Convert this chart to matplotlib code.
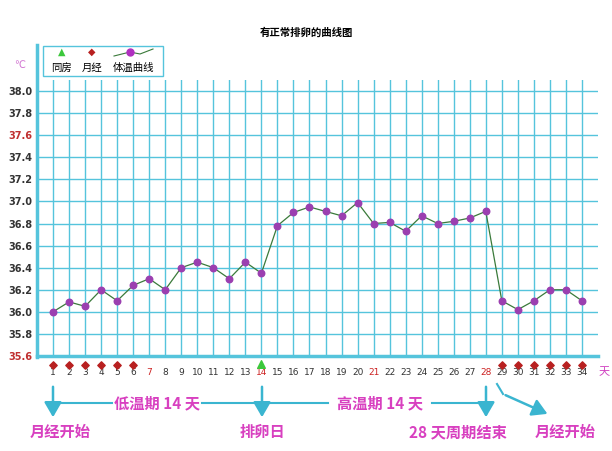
import matplotlib
matplotlib.use("Agg")
import matplotlib.pyplot as plt

plt.rcParams['font.family'] = ['Noto Sans CJK SC', 'DejaVu Sans']

days = list(range(1, 35))
temps = [36.00, 36.09, 36.05, 36.20, 36.10, 36.24, 36.30, 36.20, 36.40, 36.45,
         36.40, 36.30, 36.45, 36.35, 36.78, 36.90, 36.95, 36.91, 36.87, 36.99,
         36.80, 36.81, 36.73, 36.87, 36.80, 36.82, 36.85, 36.91, 36.10, 36.02,
         36.10, 36.20, 36.20, 36.10]
period_days = [1, 2, 3, 4, 5, 6, 29, 30, 31, 32, 33, 34]
sex_days = [14]
red_days = [7, 14, 21, 28]
yticks = [35.6, 35.8, 36.0, 36.2, 36.4, 36.6, 36.8, 37.0, 37.2, 37.4, 37.6, 37.8, 38.0]

W, H = 612, 451
fig = plt.figure(figsize=(W / 100, H / 100), dpi=100)
ax = fig.add_axes([37 / W, 1 - 356 / H, (598 - 37) / W, (356 - 80) / H])

grid_c = '#55c4dc'
ax.set_xlim(0, 35)
ax.set_ylim(35.6, 38.1)
for d in days:
    ax.axvline(d, color=grid_c, lw=1.0, zorder=1)
for t in yticks:
    ax.axhline(t, color=grid_c, lw=1.0, zorder=1)
for s in ['top', 'right', 'left']:
    ax.spines[s].set_visible(False)
ax.spines['bottom'].set_color(grid_c)
ax.spines['bottom'].set_linewidth(2.5)
# left axis line runs up past the grid
fig.add_artist(plt.Line2D([37 / W, 37 / W], [1 - 357 / H, 1 - 45 / H],
                          transform=fig.transFigure, color=grid_c, lw=2.5))

ax.plot(days, temps, color='#3a7a3a', lw=0.9, zorder=3)
ax.scatter(days, temps, color='#9b3fb0', s=22, zorder=4)

ax.set_yticks(yticks)
ax.set_yticklabels([f'{t:.1f}' for t in yticks], fontsize=7, fontweight='bold', family='DejaVu Sans')
for lbl, t in zip(ax.get_yticklabels(), yticks):
    lbl.set_color('#c03030' if t in (35.6, 37.6) else '#333333')
ax.tick_params(axis='y', length=0, pad=3)
ax.set_xticks([])

# day labels and markers below the axis
for d in days:
    ax.text(d, 35.45, str(d), ha='center', va='center', fontsize=6.5, family='DejaVu Sans',
            color='#cc2222' if d in red_days else '#333333', clip_on=False)
ax.scatter(period_days, [35.52] * len(period_days), marker='D', color='#b82020', s=14, clip_on=False, zorder=5)
ax.scatter(sex_days, [35.525] * len(sex_days), marker='^', color='#3cc83c', s=30, clip_on=False, zorder=5)
ax.text(35.05, 35.45, '天', ha='left', va='center', fontsize=8, color='#d040c0', clip_on=False)

# legend box
lx, ly = 43 / W, 1 - 76 / H
leg = plt.Rectangle((lx, ly), 120 / W, 30 / H, transform=fig.transFigure,
                    facecolor='white', edgecolor=grid_c, lw=1)
fig.add_artist(leg)
fig.text(62 / W, 1 - 52 / H, '▲', color='#3cc83c', ha='center', va='center', fontsize=7, family='DejaVu Sans')
fig.text(92 / W, 1 - 52 / H, '◆', color='#b82020', ha='center', va='center', fontsize=7, family='DejaVu Sans')
fig.add_artist(plt.Line2D([114 / W, 130 / W, 140 / W, 153 / W],
                          [1 - 56 / H, 1 - 52 / H, 1 - 54 / H, 1 - 49 / H],
                          transform=fig.transFigure, color='#3a7a3a', lw=0.8))
fig.add_artist(plt.Line2D([130 / W], [1 - 52 / H], transform=fig.transFigure,
                          marker='o', color='#b030c0', ms=5))
fig.text(62 / W, 1 - 68 / H, '同房', ha='center', va='center', fontsize=7.5)
fig.text(92 / W, 1 - 68 / H, '月经', ha='center', va='center', fontsize=7.5)
fig.text(133 / W, 1 - 68 / H, '体温曲线', ha='center', va='center', fontsize=7.5)
fig.text(20 / W, 1 - 65 / H, '℃', ha='center', va='center', fontsize=7, color='#d070d0', family='DejaVu Sans')

fig.text(0.5, 1 - 33 / H, '有正常排卵的曲线图', ha='center', va='center', fontsize=7.5, fontweight='bold')

# bottom annotations, in pixel coordinates
pink = '#d840c0'
arrow_c = '#3ab5d0'


def P(x, y):
    return (x / W, 1 - y / H)


def arrow(x0, y0, x1, y1):
    fig.add_artist(matplotlib.patches.FancyArrowPatch(P(x0, y0), P(x1, y1), transform=fig.transFigure,
                                                      arrowstyle='-|>,head_length=6,head_width=3.5',
                                                      color=arrow_c, lw=1.8, mutation_scale=1.5))


def line(xs, ys):
    fig.add_artist(plt.Line2D([x / W for x in xs], [1 - y / H for y in ys],
                              transform=fig.transFigure, color=arrow_c, lw=1.5))


arrow(53, 384, 53, 420)
arrow(262, 384, 262, 420)
arrow(486, 384, 486, 420)
line([60, 112], [403, 403])
line([202, 255], [403, 403])
line([270, 328], [403, 403])
line([432, 480], [403, 403])
line([497, 503], [384, 394])
arrow(503, 394, 550, 415)

fs = 11
kw = dict(ha='center', va='center', fontsize=fs, color=pink, fontweight='bold')
fig.text(157 / W, 1 - 403 / H, '低温期 14 天', **kw)
fig.text(380 / W, 1 - 403 / H, '高温期 14 天', **kw)
fig.text(60 / W, 1 - 432 / H, '月经开始', **kw)
fig.text(262 / W, 1 - 432 / H, '排卵日', **kw)
fig.text(458 / W, 1 - 432 / H, '28 天周期结束', **kw)
fig.text(565 / W, 1 - 432 / H, '月经开始', **kw)

fig.savefig('out.png', dpi=100)
